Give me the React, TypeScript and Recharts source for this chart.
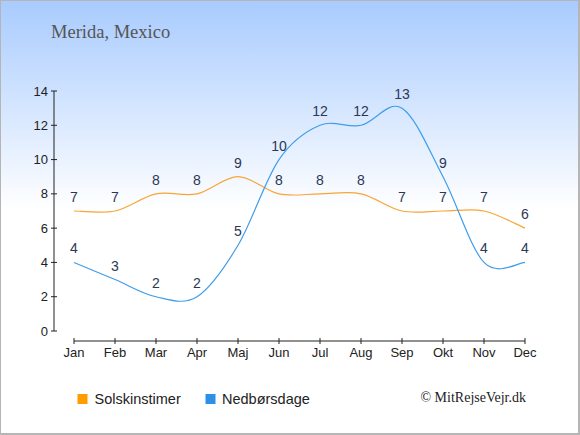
import { LineChart, Line, XAxis, YAxis, LabelList, ReferenceLine } from 'recharts'

const months = ['Jan', 'Feb', 'Mar', 'Apr', 'Maj', 'Jun', 'Jul', 'Aug', 'Sep', 'Okt', 'Nov', 'Dec']
const sunHours = [7, 7, 8, 8, 9, 8, 8, 8, 7, 7, 7, 6]
const rainDays = [4, 3, 2, 2, 5, 10, 12, 12, 13, 9, 4, 4]
const yTicks = [0, 2, 4, 6, 8, 10, 12, 14]

const data = months.map((m, i) => ({ month: m, sun: sunHours[i], rain: rainDays[i] }))

const SANS = '"Liberation Sans", Arial, sans-serif'
const SERIF = '"Liberation Serif", "Times New Roman", serif'
const PAD_LEFT = 20   // gap between y axis and first category
const PAD_BOTTOM = 10 // gap between value 0 and x axis line
const AXIS = '#222'
const SUN_LINE = '#f8a534'
const SUN_KEY = '#ff9c00'
const RAIN_LINE = '#3f9de9'
const RAIN_KEY = '#2e8fe6'
const LABEL = '#2a3853'

// Catmull-Rom spline (uniform), same shape as d3's curveCardinal with tension 0.
function catmullRom(context: any) {
  let xs: number[] = []
  let ys: number[] = []
  return {
    areaStart() {},
    areaEnd() {},
    lineStart() {
      xs = []
      ys = []
    },
    lineEnd() {
      const n = xs.length
      if (!n) return
      context.moveTo(xs[0], ys[0])
      for (let i = 0; i < n - 1; i++) {
        const a = Math.max(i - 1, 0)
        const d = Math.min(i + 2, n - 1)
        context.bezierCurveTo(
          xs[i] + (xs[i + 1] - xs[a]) / 6,
          ys[i] + (ys[i + 1] - ys[a]) / 6,
          xs[i + 1] - (xs[d] - xs[i]) / 6,
          ys[i + 1] - (ys[d] - ys[i]) / 6,
          xs[i + 1],
          ys[i + 1],
        )
      }
    },
    point(x: number, y: number) {
      xs.push(+x)
      ys.push(+y)
    },
  }
}

function XTick(props: any) {
  const { x, y, payload } = props
  const axisY = y - 7
  return (
    <g>
      <line x1={x} x2={x} y1={axisY - 3} y2={axisY + 3} stroke={AXIS} strokeWidth={1} />
      <text x={x} y={y} dy="0.71em" textAnchor="middle" fontSize={13} fill={AXIS} fontFamily={SANS}>
        {payload.value}
      </text>
    </g>
  )
}

function YTick(props: any) {
  const { x, y, payload } = props
  const axisX = x + 6
  return (
    <g>
      <line x1={axisX - 3} x2={axisX + 3} y1={y} y2={y} stroke={AXIS} strokeWidth={1} />
      <text x={x} y={y} dy="0.35em" textAnchor="end" fontSize={13} fill={AXIS} fontFamily={SANS}>
        {payload.value}
      </text>
    </g>
  )
}

export default function App() {
  return (
    <div
      style={{
        position: 'absolute',
        left: 0,
        top: 0,
        width: 580,
        height: 435,
        background: 'linear-gradient(to bottom, #a8cbfe 0px, #ffffff 210px)',
        fontFamily: SANS,
      }}
    >
      <svg width={580} height={435} style={{ position: 'absolute', left: 0, top: 0 }}>
        <text x={51} y={38} fontFamily={SERIF} fontSize={18.5} fill="#555">
          Merida, Mexico
        </text>
        <rect x={77.5} y={394} width={10} height={10} fill={SUN_KEY} />
        <text x={94.5} y={404} fontFamily={SANS} fontSize={14.5} fill="#222">
          Solskinstimer
        </text>
        <rect x={205.5} y={394} width={10} height={10} fill={RAIN_KEY} />
        <text x={222} y={404} fontFamily={SANS} fontSize={14.5} fill="#222">
          Nedbørsdage
        </text>
        <text x={526} y={402} textAnchor="end" fontFamily={SERIF} fontSize={14} fill="#222">
          © MitRejseVejr.dk
        </text>
      </svg>
      <div style={{ position: 'absolute', left: 0, top: 0 }}>
        <LineChart width={580} height={435} data={data} margin={{ top: 91, right: 55, bottom: 64, left: 20 }}>
          <XAxis
            dataKey="month"
            height={30}
            padding={{ left: PAD_LEFT, right: 0 }}
            axisLine={false}
            tickLine={false}
            tickSize={0}
            tickMargin={7}
            interval={0}
            tick={<XTick />}
          />
          <YAxis
            type="number"
            domain={[0, 14]}
            ticks={yTicks}
            width={34}
            padding={{ top: 0, bottom: PAD_BOTTOM }}
            axisLine={false}
            tickLine={false}
            tickSize={0}
            tickMargin={6}
            interval={0}
            tick={<YTick />}
          />
          <ReferenceLine
            segment={[{ x: 'Jan', y: 0 }, { x: 'Jan', y: 14 }]}
            shape={(p: any) => (
              <line x1={p.x1 - PAD_LEFT} x2={p.x2 - PAD_LEFT} y1={p.y1} y2={p.y2} stroke={AXIS} strokeWidth={1} />
            )}
          />
          <ReferenceLine
            segment={[{ x: 'Jan', y: 0 }, { x: 'Dec', y: 0 }]}
            shape={(p: any) => (
              <line x1={p.x1} x2={p.x2} y1={p.y1 + PAD_BOTTOM} y2={p.y2 + PAD_BOTTOM} stroke={AXIS} strokeWidth={1} />
            )}
          />
          <Line
            dataKey="sun"
            type={catmullRom as any}
            stroke={SUN_LINE}
            strokeWidth={1.2}
            dot={false}
            activeDot={false}
            isAnimationActive={false}
          >
            <LabelList dataKey="sun" position="top" offset={9} fontSize={14} fill={LABEL} fontFamily={SANS} />
          </Line>
          <Line
            dataKey="rain"
            type={catmullRom as any}
            stroke={RAIN_LINE}
            strokeWidth={1.2}
            dot={false}
            activeDot={false}
            isAnimationActive={false}
          >
            <LabelList dataKey="rain" position="top" offset={9} fontSize={14} fill={LABEL} fontFamily={SANS} />
          </Line>
        </LineChart>
      </div>
      <div
        style={{
          position: 'absolute',
          inset: 0,
          boxSizing: 'border-box',
          border: '1px solid #b5b5b5',
          borderRightWidth: 2,
          borderBottomWidth: 2,
          pointerEvents: 'none',
        }}
      />
    </div>
  )
}
